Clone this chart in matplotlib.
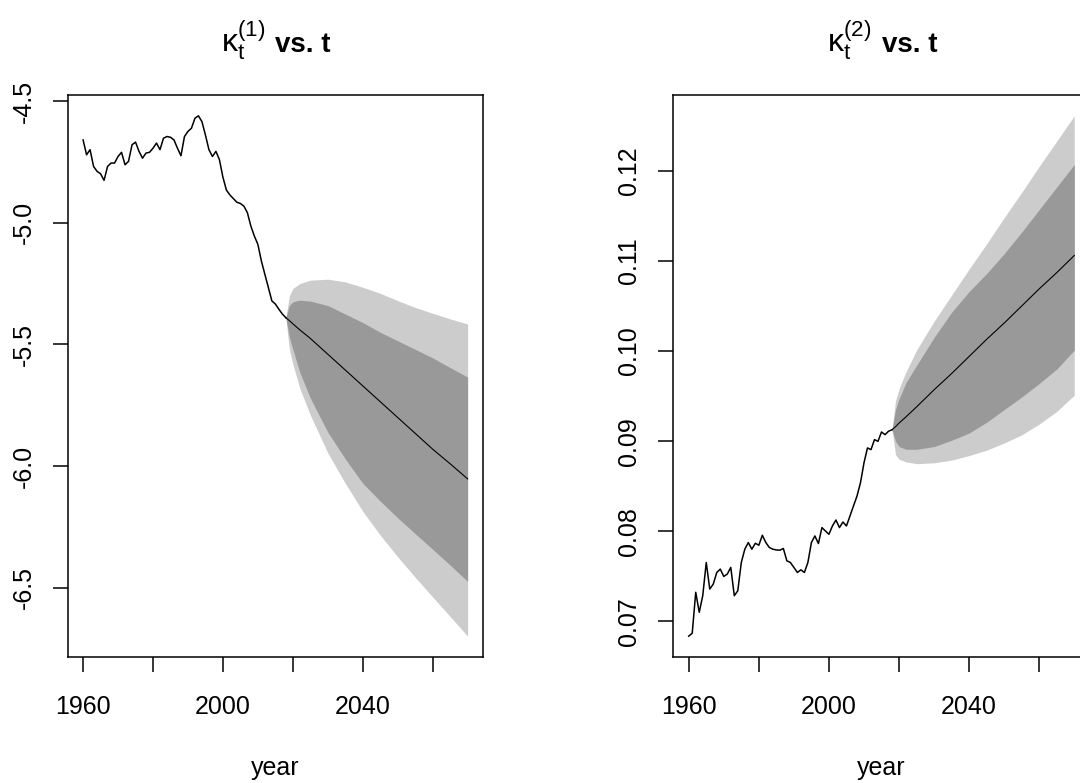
import matplotlib
matplotlib.use("Agg")
import matplotlib.pyplot as plt

plt.rcParams['font.family'] = ['Liberation Sans', 'DejaVu Sans']
plt.rcParams['mathtext.fontset'] = 'custom'
plt.rcParams['mathtext.rm'] = 'Liberation Sans'
plt.rcParams['mathtext.it'] = 'Liberation Sans:italic'
plt.rcParams['mathtext.bf'] = 'Liberation Sans:bold'
plt.rcParams['axes.unicode_minus'] = False

# ---------------- data ----------------
hist_years = list(range(1960, 2019))

k1_hist = [-4.660, -4.721, -4.700, -4.769, -4.789, -4.799, -4.826, -4.769, -4.755, -4.755,
           -4.728, -4.711, -4.762, -4.748, -4.680, -4.669, -4.707, -4.735, -4.714, -4.711,
           -4.694, -4.673, -4.700, -4.653, -4.646, -4.649, -4.660, -4.694, -4.725, -4.646,
           -4.625, -4.612, -4.571, -4.561, -4.585, -4.640, -4.700, -4.728, -4.707, -4.741,
           -4.813, -4.866, -4.886, -4.901, -4.916, -4.921, -4.932, -4.959, -5.014, -5.055,
           -5.089, -5.157, -5.212, -5.266, -5.321, -5.334, -5.355, -5.375, -5.390]

k2_hist = [0.06836, 0.06869, 0.07323, 0.07101, 0.07285, 0.07654, 0.07359, 0.07414, 0.07543, 0.07580,
           0.07499, 0.07525, 0.07599, 0.07285, 0.07340, 0.07654, 0.07801, 0.07875, 0.07801, 0.07867,
           0.07845, 0.07956, 0.07875, 0.07820, 0.07801, 0.07793, 0.07790, 0.07809, 0.07672, 0.07654,
           0.07599, 0.07543, 0.07572, 0.07543, 0.07654, 0.07875, 0.07948, 0.07864, 0.08041, 0.08003,
           0.07967, 0.08059, 0.08125, 0.08041, 0.08103, 0.08059, 0.08169, 0.08280, 0.08390, 0.08538,
           0.08759, 0.08925, 0.08906, 0.09017, 0.08998, 0.09102, 0.09072, 0.09110, 0.09127]

fc_years = [2018, 2019, 2020, 2022, 2025, 2030, 2035, 2040, 2045, 2050, 2055, 2060, 2065, 2070]

k1_mid  = [-5.390, -5.402, -5.415, -5.440, -5.475, -5.540, -5.605, -5.670, -5.735, -5.800, -5.865, -5.930, -5.990, -6.052]
k1_hi95 = [-5.390, -5.300, -5.270, -5.250, -5.236, -5.232, -5.243, -5.265, -5.290, -5.320, -5.348, -5.372, -5.395, -5.416]
k1_hi80 = [-5.390, -5.340, -5.325, -5.318, -5.322, -5.340, -5.375, -5.410, -5.450, -5.485, -5.520, -5.555, -5.595, -5.634]
k1_lo80 = [-5.390, -5.470, -5.520, -5.615, -5.720, -5.860, -5.970, -6.070, -6.143, -6.212, -6.277, -6.341, -6.406, -6.473]
k1_lo95 = [-5.390, -5.520, -5.580, -5.680, -5.790, -5.945, -6.070, -6.185, -6.283, -6.372, -6.456, -6.537, -6.617, -6.698]

k2_mid  = [0.09127, 0.0916, 0.0920, 0.0927, 0.0938, 0.0957, 0.0975, 0.0994, 0.1013, 0.1031, 0.1050, 0.1069, 0.1087, 0.1106]
k2_hi95 = [0.09127, 0.0945, 0.0958, 0.0977, 0.1001, 0.1033, 0.1062, 0.1091, 0.1119, 0.1148, 0.1176, 0.1205, 0.1233, 0.1261]
k2_hi80 = [0.09127, 0.0935, 0.0947, 0.0965, 0.0984, 0.1015, 0.1043, 0.1066, 0.1086, 0.1108, 0.1132, 0.1157, 0.1182, 0.1207]
k2_lo80 = [0.09127, 0.0900, 0.0894, 0.0891, 0.0891, 0.0894, 0.0901, 0.0909, 0.0921, 0.0935, 0.0949, 0.0964, 0.0980, 0.1001]
k2_lo95 = [0.09127, 0.0885, 0.0880, 0.0877, 0.0875, 0.0876, 0.0879, 0.0884, 0.0890, 0.0898, 0.0907, 0.0919, 0.0933, 0.0951]

x_ticks = [1960, 1980, 2000, 2020, 2040, 2060]
x_labels = ["1960", "", "2000", "", "2040", ""]
k1_ticks = [-6.5, -6.0, -5.5, -5.0, -4.5]
k1_labels = ["-6.5", "-6.0", "-5.5", "-5.0", "-4.5"]
k2_ticks = [0.07, 0.08, 0.09, 0.10, 0.11, 0.12]
k2_labels = ["0.07", "0.08", "0.09", "0.10", "0.11", "0.12"]

title_math = [r"$\mathrm{\kappa_t^{(1)}}$", r"$\mathrm{\kappa_t^{(2)}}$"]
title_text = "vs. t"

LIGHT = "#cccccc"
DARK = "#999999"

W, H = 1080, 783
fig = plt.figure(figsize=(W / 100, H / 100), dpi=100)

box_top, box_bot = 95, 657
panels = [
    (67.7, 483.0, k1_hist, k1_mid, k1_hi95, k1_hi80, k1_lo80, k1_lo95, k1_ticks, k1_labels, title_math[0]),
    (673.3, 1089.7, k2_hist, k2_mid, k2_hi95, k2_hi80, k2_lo80, k2_lo95, k2_ticks, k2_labels, title_math[1]),
]

for (xl, xr, hist, mid, hi95, hi80, lo80, lo95, yt, ylab, tmath) in panels:
    ax = fig.add_axes([xl / W, 1 - box_bot / H, (xr - xl) / W, (box_bot - box_top) / H])
    ax.fill_between(fc_years, lo95, hi95, color=LIGHT, lw=0)
    ax.fill_between(fc_years, lo80, hi80, color=DARK, lw=0)
    ax.plot(hist_years, hist, color="black", lw=1.1)
    ax.plot(fc_years, mid, color="black", lw=0.8)
    ax.margins(x=0.04, y=0.04)
    ax.set_xticks(x_ticks)
    ax.set_xticklabels(x_labels)
    ax.set_yticks(yt)
    ax.set_yticklabels(ylab, rotation=90, va="center")
    ax.tick_params(axis="both", direction="out", length=11, width=1.1, labelsize=18, colors="black")
    ax.tick_params(axis="x", pad=16)
    ax.tick_params(axis="y", pad=12)
    for s in ax.spines.values():
        s.set_linewidth(1.1)
        s.set_color("black")
    cxp = (xl + xr) / 2
    fig.text((cxp - 10) / W, 1 - 52 / H, tmath, ha="right", va="baseline", fontsize=23)
    fig.text((cxp) / W, 1 - 52 / H, title_text, ha="left", va="baseline", fontsize=20, fontweight="bold")
    fig.text(cxp / W, 1 - 775 / H, "year", ha="center", va="baseline", fontsize=18)

fig.savefig("out.png", dpi=100)
